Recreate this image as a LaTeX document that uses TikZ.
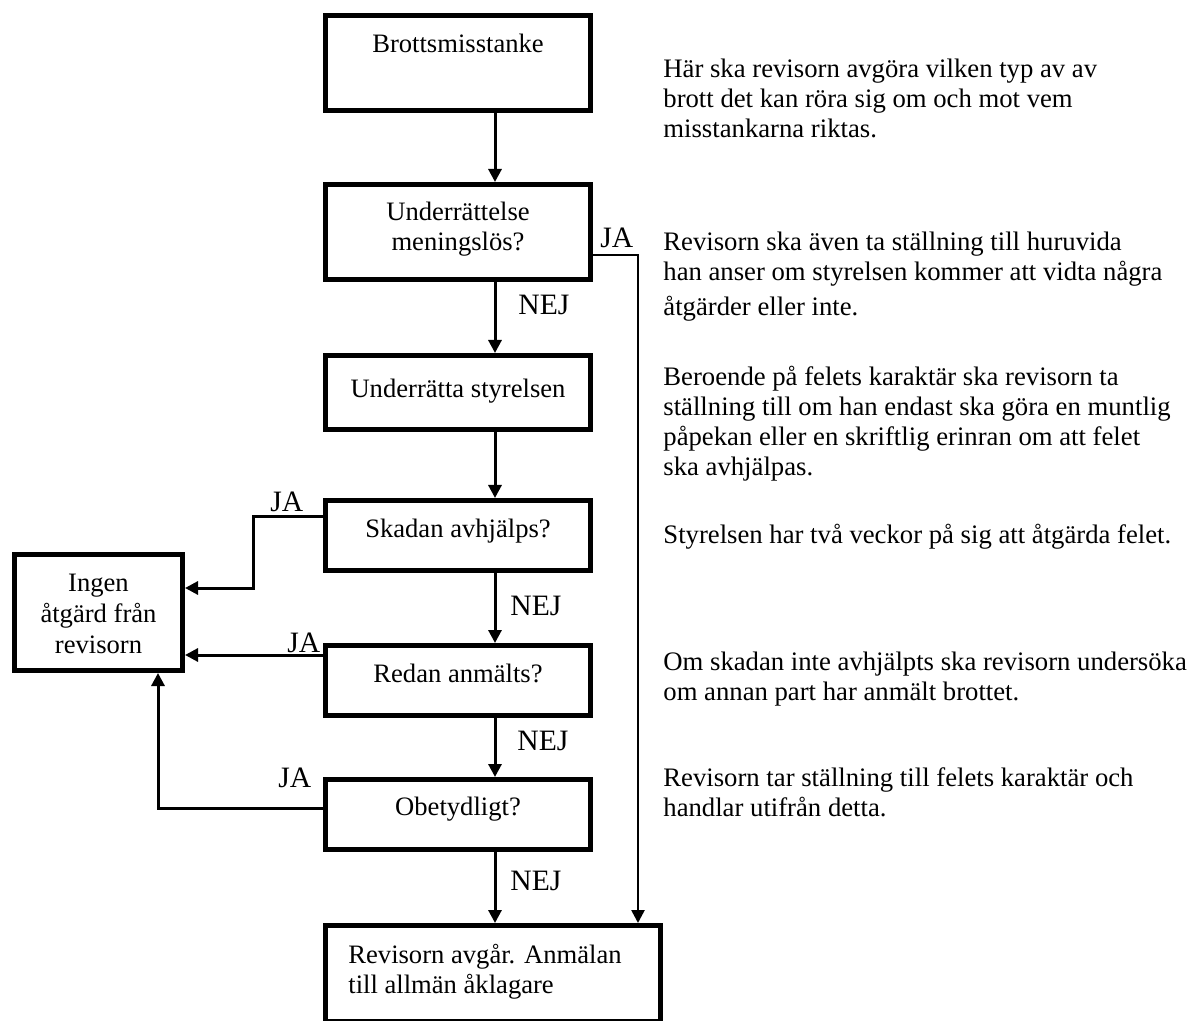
\documentclass[tikz,border=0pt]{standalone}
\usepackage{fontspec}
\setmainfont{Liberation Serif}
\usetikzlibrary{arrows.meta}
\begin{document}
\begin{tikzpicture}[x=0.5pt,y=-0.5pt,
  box/.style={draw, line width=2.5pt, rectangle, inner sep=0pt, outer sep=1.25pt},
  btxt/.style={font=\fontsize{13.3}{15}\selectfont, align=center, inner sep=0pt, anchor=base},
  rtxt/.style={font=\fontsize{13.35}{15}\selectfont, align=left, anchor=base west, inner sep=0pt},
  lbl/.style={font=\fontsize{14.8}{17}\selectfont, anchor=base west, inner sep=0pt},
  conn/.style={line width=1.5pt, line join=miter, -{Triangle[width=6.5pt,length=6.5pt]}}]
\useasboundingbox (0,0) rectangle (1189,1021);
% boxes
\node[box, minimum width=132.5pt, minimum height=47.5pt] (b1) at (458,63) {};
\node[box, minimum width=132.5pt, minimum height=47.5pt] (b2) at (458,232) {};
\node[box, minimum width=132.5pt, minimum height=37pt] (b3) at (458,392.5) {};
\node[box, minimum width=132.5pt, minimum height=35pt] (b4) at (458,535.5) {};
\node[box, minimum width=132.5pt, minimum height=35pt] (b5) at (458,680.5) {};
\node[box, minimum width=132.5pt, minimum height=35pt] (b6) at (458,814.5) {};
\node[box, minimum width=167.5pt, minimum height=47.75pt] (b7) at (493,973.25) {};
\node[box, minimum width=84pt, minimum height=58pt] (L) at (98.5,612.5) {};
% box texts (anchor = baseline of the last line)
\node[btxt] (t1) at (458,53) {Brottsmisstanke};
\node[btxt] (t2) at (458,251) {Underrättelse\\meningslös?};
\node[btxt] (t3) at (458,398) {Underrätta styrelsen};
\node[btxt] (t4) at (458,538) {Skadan avhjälps?};
\node[btxt] (t5) at (458,682) {Redan anmälts?};
\node[btxt] (t6) at (458,815) {Obetydligt?};
\node[btxt, align=left, anchor=base west] (t7) at (348,993) {Revisorn avgår. Anmälan\\till allmän åklagare};
\node[btxt, font=\fontsize{13.3}{15.5}\selectfont] (tL) at (98.5,653) {Ingen\\åtgärd från\\revisorn};
% right-hand texts (anchor = baseline of the last line)
\node[rtxt] (r1) at (663,138) {Här ska revisorn avgöra vilken typ av av\\brott det kan röra sig om och mot vem\\misstankarna riktas.};
\node[rtxt] (r2) at (663,316) {Revisorn ska även ta ställning till huruvida\\han anser om styrelsen kommer att vidta några\\[2.75pt]åtgärder eller inte.};
\node[rtxt] (r3) at (663,476) {Beroende på felets karaktär ska revisorn ta\\ställning till om han endast ska göra en muntlig\\påpekan eller en skriftlig erinran om att felet\\ska avhjälpas.};
\node[rtxt] (r4) at (663,544) {Styrelsen har två veckor på sig att åtgärda felet.};
\node[rtxt] (r5) at (663,700) {Om skadan inte avhjälpts ska revisorn undersöka\\om annan part har anmält brottet.};
\node[rtxt] (r6) at (663,816) {Revisorn tar ställning till felets karaktär och\\handlar utifrån detta.};
% labels
\node[lbl] (ja1) at (600,248) {JA};
\node[lbl] (nej1) at (518,315) {NEJ};
\node[lbl] (ja2) at (270,511) {JA};
\node[lbl] (nej2) at (510,615) {NEJ};
\node[lbl] (ja3) at (287,652) {JA};
\node[lbl] (nej3) at (517,750) {NEJ};
\node[lbl] (ja4) at (278,787) {JA};
\node[lbl] (nej4) at (510,890) {NEJ};
% helper coordinates
\coordinate (ax) at (495,0);
\coordinate (jx) at (638,255);
\coordinate (s1) at (253,517);
\coordinate (s2) at (253,588);
\coordinate (r1c) at (0,655);
\coordinate (o1) at (158,808);
% connectors
\draw[conn] (b1.south -| ax) -- (b2.north -| ax);
\draw[conn] (b2.south -| ax) -- (b3.north -| ax);
\draw[conn] (b3.south -| ax) -- (b4.north -| ax);
\draw[conn] (b4.south -| ax) -- (b5.north -| ax);
\draw[conn] (b5.south -| ax) -- (b6.north -| ax);
\draw[conn] (b6.south -| ax) -- (b7.north -| ax);
\draw[conn, line width=1.3pt] (b2.east |- jx) -- (jx) -- (b7.north -| jx);
\draw[conn] (b4.west |- s1) -- (s1) -- (s2) -- (L.east |- s2);
\draw[conn] (b5.west |- r1c) -- (L.east |- r1c);
\draw[conn] (b6.west |- o1) -- (o1) -- (L.south -| o1);
\end{tikzpicture}
\end{document}
